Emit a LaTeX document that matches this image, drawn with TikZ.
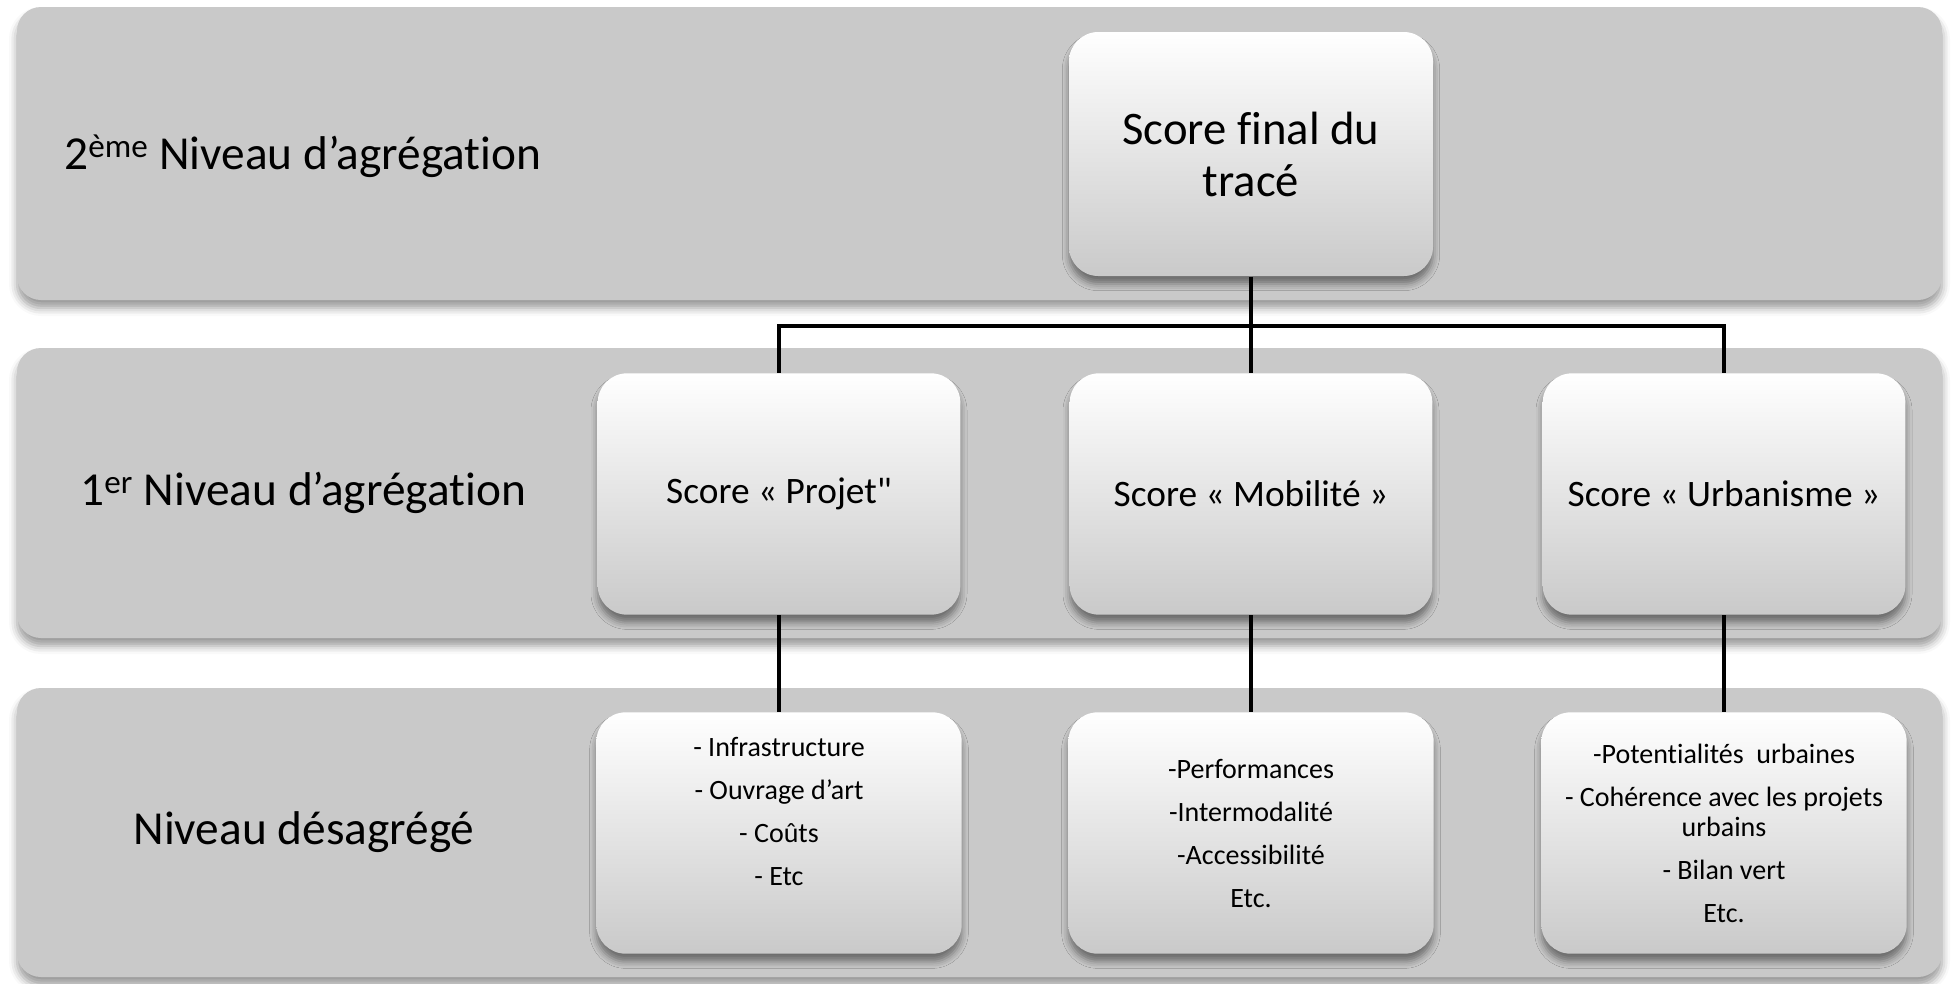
\documentclass[tikz,border=0pt]{standalone}
\usepackage{fontspec}
\setmainfont{Carlito}[Ligatures={TeXOff,NoCommon}]
\usetikzlibrary{shadows.blur}

\tikzset{every picture/.style={line width=0.75pt}}
\tikzset{
  band/.style={fill=black!21, rounded corners=18pt,
    blur shadow={shadow xshift=0pt, shadow yshift=-6pt, shadow blur radius=6pt, shadow opacity=40}},
  scorebox/.style={rounded corners=22pt, top color=white, middle color=black!7, bottom color=black!21,
    align=center, inner sep=0pt,
    blur shadow={shadow xshift=0pt, shadow yshift=-6pt, shadow blur radius=5pt, shadow opacity=45}},
  levellabel/.style={anchor=west, inner sep=0pt, font=\fontsize{35.5}{42}\selectfont},
  link/.style={line width=2.4pt, black}
}

\begin{document}
\begin{tikzpicture}[x=0.75pt,y=0.75pt,yscale=-1,xscale=1]
\useasboundingbox (0,0) rectangle (1954,983);

%Rounded Rect (bands)
\path[band] (17,7) rectangle (1942,300);
\path[band] (17,348) rectangle (1942,638);
\path[band] (17,688) rectangle (1942,977);

% Text Node
\node[levellabel] (lvltwo) at (64,156) {2\textsuperscript{ème} Niveau d’agrégation};
% Text Node
\node[levellabel] (lvlone) at (80,493) {1\textsuperscript{er} Niveau d’agrégation};
% Text Node
\node[levellabel] (lvlzero) at (133,832) {Niveau désagrégé};

%Score final
\node[scorebox, minimum width=273pt, minimum height=183pt, font=\fontsize{35}{39}\selectfont] (final) at (1251,154) {Score final du\\tracé};

%Scores 1er niveau
\node[scorebox, minimum width=272pt, minimum height=181pt, font=\fontsize{28}{33}\selectfont] (projet) at (779,494) {Score « Projet"};
\node[scorebox, minimum width=272pt, minimum height=181pt, font=\fontsize{28}{33}\selectfont] (mobilite) at (1251,494) {Score « Mobilité »};
\node[scorebox, minimum width=272pt, minimum height=181pt, font=\fontsize{28}{33}\selectfont] (urba) at (1724,494) {Score « Urbanisme »};

%Criteres
\node[scorebox, minimum width=274pt, minimum height=181pt, font=\fontsize{21}{22.5}\selectfont] (infra) at (779,833)
  {- Infrastructure\\[9.75pt]- Ouvrage d’art\\[9.75pt]- Coûts\\[9.75pt]- Etc\\[9.75pt]\mbox{}};
\node[scorebox, minimum width=274pt, minimum height=181pt, font=\fontsize{21}{22.5}\selectfont] (perf) at (1251,833)
  {-Performances\\[9.75pt]-Intermodalité\\[9.75pt]-Accessibilité\\[9.75pt]Etc.};
\node[scorebox, minimum width=274pt, minimum height=181pt, font=\fontsize{21}{22.5}\selectfont] (poten) at (1724,833)
  {-Potentialités\ \ urbaines\\[9.75pt]- Cohérence avec les projets\\urbains\\[9.75pt]- Bilan vert\\[9.75pt]Etc.};

%Straight Lines
\coordinate (bus) at (1251,326);
\draw[link] (final.south) -- (bus);
\draw[link] (bus) -| (projet.north);
\draw[link] (bus) -- (mobilite.north);
\draw[link] (bus) -| (urba.north);
\draw[link] (projet.south) -- (infra.north);
\draw[link] (mobilite.south) -- (perf.north);
\draw[link] (urba.south) -- (poten.north);

\end{tikzpicture}
\end{document}
